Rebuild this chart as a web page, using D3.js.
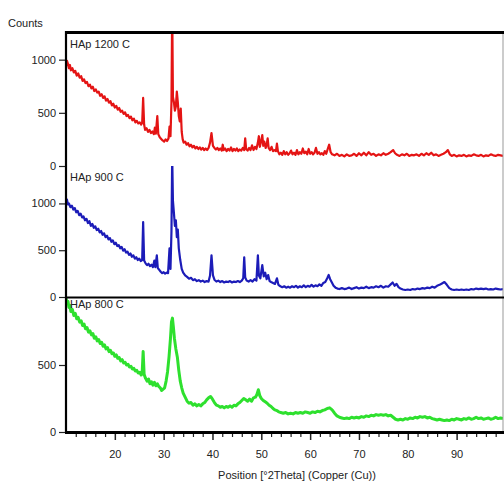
<!DOCTYPE html>
<html><head><meta charset="utf-8">
<script src="https://cdn.jsdelivr.net/npm/d3@7"></script>
<style>body{margin:0;background:#fff}svg{display:block}text{font-family:"Liberation Sans",Arial,sans-serif;fill:#222}</style>
</head><body><svg id="c" width="504" height="488"></svg>
<script>
const seriesNames = ["HAp 1200 C", "HAp 900 C", "HAp 800 C"];
const seriesColors = ["#e41414", "#1c1cb8", "#2ee02e"];
const xTickLabels = [20, 30, 40, 50, 60, 70, 80, 90];
const yTicksPanel1 = [0, 500, 1000];
const yTicksPanel2 = [0, 500, 1000];
const yTicksPanel3 = [0, 500];
const xTitle = "Position [°2Theta] (Copper (Cu))";
const yTitle = "Counts";

const hap1200 = [[10.0,940],[10.2,990],[10.4,960],[10.6,920],[10.8,950],[11.0,900],[11.3,920],[11.6,880],[11.9,895],[12.2,850],[12.5,870],[12.8,830],[13.1,845],[13.4,800],[13.7,815],[14.0,780],[14.3,790],[14.6,750],[14.9,765],[15.2,730],[15.5,745],[15.8,705],[16.1,720],[16.4,690],[16.7,700],[17.0,660],[17.3,675],[17.6,640],[17.9,655],[18.2,615],[18.5,630],[18.8,595],[19.1,610],[19.4,570],[19.7,585],[20.0,550],[20.3,565],[20.6,530],[20.9,545],[21.2,510],[21.5,520],[21.8,490],[22.1,505],[22.4,470],[22.7,480],[23.0,450],[23.3,465],[23.6,430],[23.9,445],[24.2,410],[24.5,425],[24.8,400],[25.1,410],[25.4,390],[25.6,405],[25.8,640],[26.0,390],[26.2,340],[26.5,355],[26.8,320],[27.1,340],[27.4,310],[27.7,325],[28.0,300],[28.2,360],[28.4,305],[28.7,470],[28.9,300],[29.2,270],[29.5,255],[29.8,240],[30.1,230],[30.4,250],[30.7,235],[31.0,260],[31.2,370],[31.4,280],[31.6,600],[31.75,1500],[31.9,650],[32.1,600],[32.3,520],[32.5,560],[32.7,700],[32.9,600],[33.1,470],[33.3,420],[33.5,540],[33.7,320],[33.9,250],[34.1,220],[34.4,230],[34.7,200],[35.0,215],[35.3,185],[35.6,200],[35.9,175],[36.2,190],[36.5,165],[36.8,180],[37.1,160],[37.4,175],[37.7,155],[38.0,170],[38.3,150],[38.6,165],[38.9,150],[39.2,170],[39.5,220],[39.8,310],[40.1,190],[40.4,170],[40.7,155],[41.0,170],[41.3,150],[41.6,165],[41.9,145],[42.1,200],[42.3,150],[42.6,165],[42.9,140],[43.2,160],[43.5,145],[43.8,175],[44.1,140],[44.4,160],[44.7,145],[45.0,165],[45.3,140],[45.6,155],[45.9,145],[46.2,170],[46.5,150],[46.7,260],[46.9,160],[47.2,145],[47.5,170],[47.8,150],[48.1,195],[48.4,150],[48.7,180],[49.0,160],[49.3,220],[49.5,280],[49.7,180],[50.0,240],[50.2,290],[50.4,190],[50.6,230],[50.9,170],[51.1,200],[51.3,260],[51.5,170],[51.8,150],[52.1,180],[52.4,140],[52.7,150],[53.0,140],[53.2,210],[53.4,140],[53.7,110],[54.0,125],[54.3,105],[54.6,140],[54.9,110],[55.2,130],[55.5,105],[55.8,120],[56.1,145],[56.4,110],[56.7,125],[57.0,105],[57.3,150],[57.6,110],[57.9,130],[58.2,115],[58.5,165],[58.8,120],[59.1,135],[59.4,110],[59.7,160],[60.0,115],[60.3,130],[60.6,110],[60.9,125],[61.2,170],[61.5,115],[61.8,130],[62.1,110],[62.4,120],[62.7,105],[63.0,140],[63.3,115],[63.6,160],[63.9,200],[64.2,130],[64.5,110],[65.0,100],[65.5,115],[66.0,95],[66.5,105],[67.0,90],[67.5,110],[68.0,95],[68.5,100],[69.0,115],[69.5,95],[70.0,120],[70.5,100],[71.0,125],[71.5,100],[72.0,130],[72.5,105],[73.0,115],[73.5,95],[74.0,110],[74.5,100],[75.0,120],[75.5,105],[76.0,115],[76.5,130],[77.0,150],[77.4,120],[77.8,105],[78.3,95],[78.8,110],[79.3,100],[79.8,115],[80.3,95],[80.8,105],[81.3,100],[81.8,110],[82.3,95],[82.8,115],[83.3,100],[83.8,120],[84.3,105],[84.8,125],[85.3,100],[85.8,110],[86.3,95],[86.8,105],[87.3,115],[87.8,130],[88.2,150],[88.6,110],[89.0,95],[89.5,105],[90.0,90],[90.5,100],[91.0,95],[91.5,105],[92.0,90],[92.5,100],[93.0,95],[93.5,110],[94.0,100],[94.5,95],[95.0,105],[95.5,90],[96.0,100],[96.5,95],[97.0,110],[97.5,100],[98.0,95],[98.5,105],[99.0,100],[99.5,95]];

const hap900 = [[10.0,1000],[10.2,1040],[10.4,990],[10.6,1000],[10.9,960],[11.2,975],[11.5,935],[11.8,950],[12.1,905],[12.4,920],[12.7,875],[13.0,890],[13.3,850],[13.6,860],[13.9,820],[14.2,835],[14.5,790],[14.8,810],[15.1,760],[15.4,780],[15.7,740],[16.0,755],[16.3,715],[16.6,730],[16.9,690],[17.2,705],[17.5,665],[17.8,680],[18.1,640],[18.4,655],[18.7,615],[19.0,630],[19.3,590],[19.6,605],[19.9,565],[20.2,580],[20.5,545],[20.8,555],[21.1,520],[21.4,535],[21.7,495],[22.0,510],[22.3,475],[22.6,485],[22.9,450],[23.2,465],[23.5,430],[23.8,445],[24.1,410],[24.4,425],[24.7,395],[25.0,410],[25.3,385],[25.6,395],[25.8,800],[26.0,390],[26.3,360],[26.6,340],[26.9,355],[27.2,330],[27.5,345],[27.8,320],[28.1,390],[28.3,320],[28.6,445],[28.8,310],[29.1,290],[29.4,270],[29.7,255],[30.0,265],[30.3,250],[30.6,260],[30.9,255],[31.2,520],[31.4,300],[31.6,700],[31.75,1500],[31.9,1030],[32.1,900],[32.3,760],[32.5,820],[32.7,640],[32.9,720],[33.1,520],[33.4,395],[33.7,300],[34.0,260],[34.4,230],[34.8,215],[35.2,195],[35.6,205],[36.0,180],[36.4,190],[36.8,170],[37.2,180],[37.6,165],[38.0,175],[38.4,160],[38.8,170],[39.2,165],[39.5,230],[39.8,445],[40.1,230],[40.4,185],[40.8,165],[41.2,175],[41.6,160],[42.0,170],[42.4,155],[42.8,165],[43.2,160],[43.6,170],[44.0,155],[44.4,165],[44.8,160],[45.2,170],[45.6,160],[46.0,175],[46.3,200],[46.5,425],[46.7,210],[47.0,175],[47.4,165],[47.8,180],[48.2,165],[48.6,190],[49.0,175],[49.3,445],[49.5,230],[49.8,200],[50.2,340],[50.5,220],[50.8,260],[51.1,190],[51.4,235],[51.7,170],[52.0,160],[52.4,150],[52.8,140],[53.2,200],[53.5,130],[53.9,115],[54.3,105],[54.7,115],[55.1,100],[55.5,110],[55.9,100],[56.3,115],[56.7,105],[57.1,120],[57.5,100],[57.9,115],[58.3,105],[58.7,125],[59.1,105],[59.5,120],[59.9,110],[60.3,130],[60.7,110],[61.1,125],[61.5,115],[61.9,135],[62.3,120],[62.7,150],[63.1,160],[63.5,200],[63.8,235],[64.1,190],[64.4,160],[64.8,120],[65.2,100],[65.6,90],[66.0,85],[66.5,95],[67.0,85],[67.5,90],[68.0,100],[68.5,85],[69.0,95],[69.5,105],[70.0,90],[70.5,100],[71.0,95],[71.5,110],[72.0,95],[72.5,105],[73.0,100],[73.5,115],[74.0,105],[74.5,120],[75.0,100],[75.5,115],[76.0,110],[76.5,135],[76.9,155],[77.3,120],[77.7,140],[78.1,105],[78.5,90],[79.0,80],[79.5,75],[80.0,80],[80.5,75],[81.0,85],[81.5,80],[82.0,90],[82.5,85],[83.0,95],[83.5,90],[84.0,100],[84.5,95],[85.0,110],[85.5,100],[86.0,120],[86.5,130],[87.0,145],[87.5,160],[88.0,130],[88.5,95],[89.0,80],[89.5,75],[90.0,80],[90.5,75],[91.0,80],[91.5,75],[92.0,80],[92.5,75],[93.0,85],[93.5,80],[94.0,90],[94.5,85],[95.0,90],[95.5,85],[96.0,90],[96.5,80],[97.0,85],[97.5,80],[98.0,90],[98.5,85],[99.0,80],[99.5,85]];

const hap800 = [[10.0,1000],[10.2,960],[10.4,975],[10.6,930],[10.8,945],[11.0,900],[11.3,915],[11.6,870],[11.9,885],[12.2,845],[12.5,855],[12.8,820],[13.1,830],[13.4,795],[13.7,805],[14.0,770],[14.3,780],[14.6,745],[14.9,755],[15.2,725],[15.5,735],[15.8,700],[16.1,710],[16.4,680],[16.7,690],[17.0,660],[17.3,670],[17.6,640],[17.9,650],[18.2,620],[18.5,630],[18.8,600],[19.1,610],[19.4,585],[19.7,590],[20.0,565],[20.3,575],[20.6,550],[20.9,555],[21.2,530],[21.5,540],[21.8,515],[22.1,520],[22.4,500],[22.7,505],[23.0,485],[23.3,490],[23.6,470],[23.9,475],[24.2,455],[24.5,460],[24.8,440],[25.1,445],[25.4,425],[25.6,440],[25.8,600],[26.0,430],[26.3,400],[26.6,380],[26.9,395],[27.2,360],[27.5,375],[27.8,350],[28.1,370],[28.4,345],[28.7,360],[29.0,340],[29.3,330],[29.6,310],[29.9,320],[30.2,330],[30.5,380],[30.8,450],[31.1,560],[31.4,700],[31.6,820],[31.8,850],[32.0,780],[32.2,700],[32.5,620],[32.8,560],[33.1,460],[33.4,380],[33.7,330],[34.0,290],[34.4,260],[34.8,230],[35.2,215],[35.6,220],[36.0,200],[36.4,210],[36.8,195],[37.2,205],[37.6,195],[38.0,210],[38.4,220],[38.8,240],[39.2,255],[39.6,265],[40.0,245],[40.4,220],[40.8,200],[41.2,195],[41.6,185],[42.0,190],[42.4,180],[42.8,190],[43.2,185],[43.6,195],[44.0,185],[44.4,200],[44.8,195],[45.2,210],[45.6,220],[46.0,235],[46.4,250],[46.8,240],[47.2,230],[47.6,245],[48.0,230],[48.4,255],[48.8,260],[49.1,280],[49.4,315],[49.7,270],[50.0,250],[50.4,235],[50.8,225],[51.2,215],[51.6,200],[52.0,190],[52.4,175],[52.8,165],[53.2,160],[53.6,150],[54.0,145],[54.5,140],[55.0,145],[55.5,135],[56.0,140],[56.5,135],[57.0,145],[57.5,140],[58.0,145],[58.5,140],[59.0,150],[59.5,145],[60.0,140],[60.5,150],[61.0,145],[61.5,155],[62.0,150],[62.5,160],[63.0,165],[63.5,175],[64.0,180],[64.5,165],[65.0,140],[65.5,120],[66.0,110],[66.5,105],[67.0,100],[67.5,105],[68.0,100],[68.5,110],[69.0,105],[69.5,110],[70.0,105],[70.5,115],[71.0,110],[71.5,120],[72.0,115],[72.5,125],[73.0,120],[73.5,130],[74.0,125],[74.5,130],[75.0,125],[75.5,130],[76.0,120],[76.5,125],[77.0,110],[77.5,95],[78.0,90],[78.5,95],[79.0,90],[79.5,100],[80.0,95],[80.5,105],[81.0,100],[81.5,110],[82.0,105],[82.5,115],[83.0,110],[83.5,115],[84.0,105],[84.5,110],[85.0,100],[85.5,95],[86.0,90],[86.5,95],[87.0,90],[87.5,85],[88.0,90],[88.5,85],[89.0,95],[89.5,90],[90.0,100],[90.5,95],[91.0,90],[91.5,100],[92.0,95],[92.5,105],[93.0,95],[93.5,100],[94.0,110],[94.5,100],[95.0,105],[95.5,95],[96.0,100],[96.5,105],[97.0,95],[97.5,100],[98.0,110],[98.5,100],[99.0,105],[99.5,100]];

const svg = d3.select("#c");
const L = 66, R = 503;
const x = d3.scaleLinear().domain([10, 99.5]).range([L, R]);
const panels = [
  {data: hap1200, y: d3.scaleLinear().domain([0, 1260]).range([166, 32]), ticks: yTicksPanel1, lw: 2.2, labelY: 48},
  {data: hap900,  y: d3.scaleLinear().domain([0, 1400]).range([297, 166]), ticks: yTicksPanel2, lw: 2.2, labelY: 181},
  {data: hap800,  y: d3.scaleLinear().domain([0, 1000]).range([432, 298]), ticks: yTicksPanel3, lw: 3, labelY: 308}
];

panels.forEach((p, i) => {
  const [y0, y1] = p.y.range();
  svg.append("clipPath").attr("id", "clip" + i).append("rect")
    .attr("x", L).attr("y", y1).attr("width", R - L).attr("height", y0 - y1);
  const line = d3.line().x(d => x(d[0])).y(d => p.y(d[1]));
  svg.append("path").datum(p.data).attr("clip-path", `url(#clip${i})`)
    .attr("d", line).attr("fill", "none").attr("stroke", seriesColors[i])
    .attr("stroke-width", p.lw).attr("stroke-linejoin", "round");
  const ax = svg.append("g").attr("transform", `translate(${L},0)`)
    .call(d3.axisLeft(p.y).tickValues(p.ticks).tickSize(7).tickPadding(3).tickFormat(d3.format("d")));
  ax.select(".domain").remove();
  ax.selectAll("line").attr("stroke", "#222").attr("stroke-width", 1.2);
  ax.selectAll("text").attr("font-size", 11).attr("fill", "#333").style("font-family", "'Liberation Sans', Arial, sans-serif");
  svg.append("text").attr("x", 70).attr("y", p.labelY).attr("font-size", 11).attr("fill", "#333").text(seriesNames[i]);
});

// frame
svg.append("line").attr("x1", R).attr("x2", R).attr("y1", 32).attr("y2", 432).attr("stroke", "#999").attr("stroke-width", 1);
svg.append("line").attr("x1", L).attr("x2", R + 1).attr("y1", 32.5).attr("y2", 32.5).attr("stroke", "#000").attr("stroke-width", 3);
svg.append("line").attr("x1", L).attr("x2", R + 1).attr("y1", 297.5).attr("y2", 297.5).attr("stroke", "#000").attr("stroke-width", 2);
svg.append("line").attr("x1", L).attr("x2", L).attr("y1", 31).attr("y2", 433).attr("stroke", "#000").attr("stroke-width", 2.2);

// x axis
const minor = d3.range(12, 100, 2).filter(v => v % 10 !== 0);
const gMinor = svg.append("g").attr("transform", "translate(0,432)")
  .call(d3.axisBottom(x).tickValues(minor).tickSize(5).tickFormat(""));
gMinor.select(".domain").remove();
gMinor.selectAll("line").attr("stroke", "#222").attr("stroke-width", 1.2);
const gx = svg.append("g").attr("transform", "translate(0,432)")
  .call(d3.axisBottom(x).tickValues(xTickLabels).tickSize(8).tickPadding(10).tickFormat(d3.format("d")));
gx.select(".domain").remove();
gx.selectAll("line").attr("stroke", "#222").attr("stroke-width", 1.5);
gx.selectAll("text").attr("font-size", 11).attr("fill", "#333").style("font-family", "'Liberation Sans', Arial, sans-serif");
svg.append("line").attr("x1", L - 1).attr("x2", R + 1).attr("y1", 432.5).attr("y2", 432.5).attr("stroke", "#000").attr("stroke-width", 3);

svg.append("text").attr("x", 297).attr("y", 479).attr("text-anchor", "middle").attr("font-size", 11).attr("fill", "#333").text(xTitle);
svg.append("text").attr("x", 8).attr("y", 27).attr("font-size", 11).attr("fill", "#333").text(yTitle);
</script></body></html>
